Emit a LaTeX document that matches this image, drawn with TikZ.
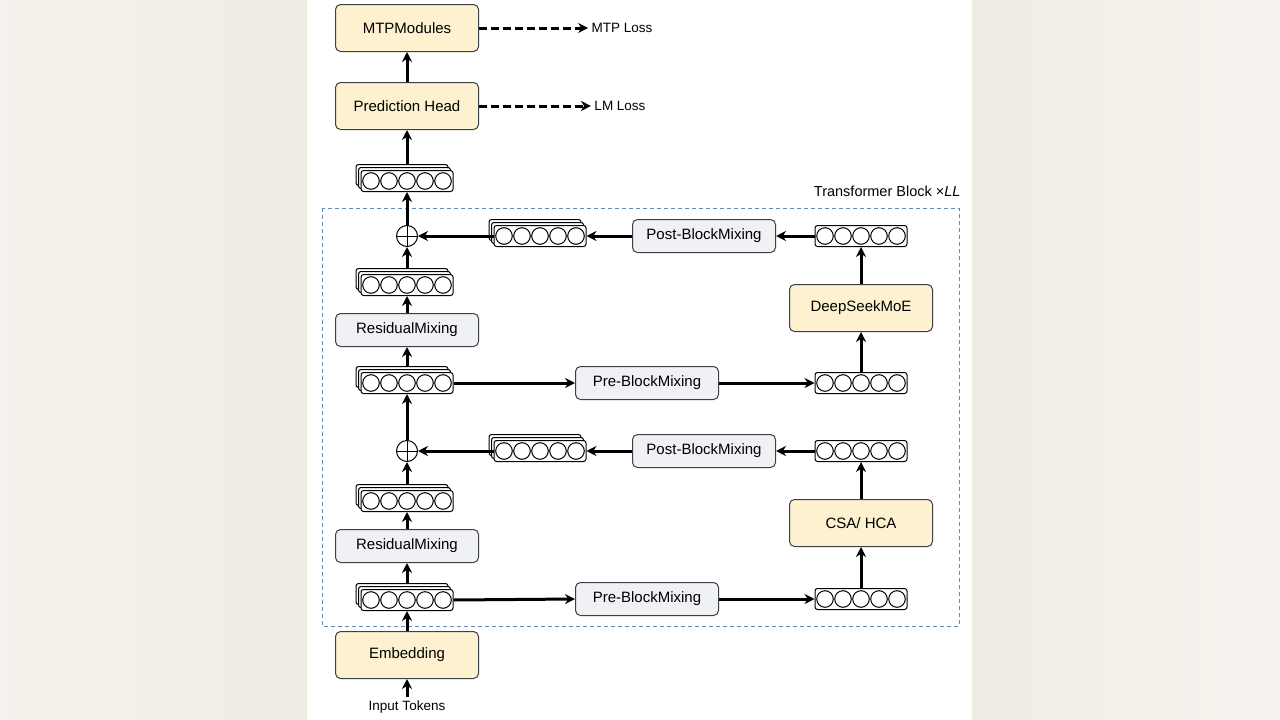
\documentclass[tikz,border=0pt]{standalone}
\usepackage{fontspec}
\setmainfont{Liberation Sans}
\usetikzlibrary{arrows.meta,shapes.geometric}
\definecolor{ylw}{RGB}{253,241,207}
\definecolor{gry}{RGB}{240,241,244}
\definecolor{edge}{RGB}{60,64,70}
\definecolor{dashc}{RGB}{95,140,180}
\definecolor{bgl}{RGB}{240,236,228}
\tikzset{
 box/.style={draw=edge,line width=1pt,rounded corners=5pt,minimum width=143pt,align=center,font=\fontsize{15}{17}\selectfont},
 ybox/.style={box,fill=ylw,minimum height=47pt},
 gbox/.style={box,fill=gry,minimum height=33pt},
 vrect/.style={draw=black,line width=1pt,rounded corners=2.5pt,fill=white,minimum width=92pt,minimum height=21pt,inner sep=0pt},
 arr/.style={line width=3pt,-{Stealth[length=10pt,width=10pt]}},
 darr/.style={line width=3pt,dash pattern=on 8pt off 4pt,-{Stealth[length=10pt,width=10pt]}},
 lbl/.style={font=\fontsize{13.5}{15}\selectfont}
}
\newcommand{\circs}[1]{\foreach \i in {-2,...,2}{\draw[line width=1pt] ([xshift=\i*18pt]#1.center) circle (8.3pt);}}
\newcommand{\vecnode}[3]{\node[vrect] (#1) at (#2,#3) {};\circs{#1}}
\newcommand{\stacknode}[3]{%
 \node[vrect] at ([xshift=-5pt,yshift=6pt]#2pt,-#3pt) {};%
 \node[vrect] at ([xshift=-2.5pt,yshift=3pt]#2pt,-#3pt) {};%
 \node[vrect] (#1) at (#2,#3) {};\circs{#1}}
\begin{document}
\begin{tikzpicture}[x=1pt,y=-1pt]
\useasboundingbox (0,0) rectangle (1280,720);
\fill[left color=bgl!70,right color=bgl] (0,0) rectangle (307,720);
\fill[left color=bgl,right color=bgl!60] (972,0) rectangle (1280,720);
\fill[white] (307,0) rectangle (972,720);
% dashed block
\draw[dashc,line width=1pt,dash pattern=on 4pt off 3pt] (322,208) rectangle (959,626);
\node[anchor=east,font=\fontsize{14.5}{16}\selectfont] (tb) at (964,191) {Transformer Block ×\textit{LL}};
% top
\node[ybox] (mtp) at (407,28) {MTPModules};
\node[ybox] (ph) at (407,106) {Prediction Head};
\node[lbl] (mtpl) at (622,28) {MTP Loss};
\node[lbl] (lml) at (620,106) {LM Loss};
\draw[darr] (mtp.east) -- (mtpl.west);
\draw[darr] (ph.east) -- (lml.west);
\draw[arr] (ph.north) -- (mtp.south);
\stacknode{s0}{407}{181}
\draw[arr] ([yshift=6pt]s0.north) -- (ph.south);
% upper block
\node[draw=black,line width=1pt,circle,minimum size=21pt,inner sep=0pt] (o2) at (407,236) {};
\draw[line width=1pt] (o2.north)--(o2.south) (o2.west)--(o2.east);
\draw[arr] (o2.north) -- (s0.south);
\stacknode{s2b}{540}{236}
\node[gbox] (post2) at (704,236) {Post-BlockMixing};
\vecnode{v2b}{861}{236}
\draw[arr] (v2b.west) -- (post2.east);
\draw[arr] (post2.west) -- (s2b.east);
\draw[arr] (s2b.west) -- (o2.east);
\node[ybox] (moe) at (861,308) {DeepSeekMoE};
\draw[arr] (moe.north) -- (v2b.south);
\stacknode{s2a}{407}{285}
\draw[arr] ([yshift=6pt]s2a.north) -- (o2.south);
\node[gbox] (rm2) at (407,330) {ResidualMixing};
\draw[arr] (rm2.north) -- (s2a.south);
\stacknode{s1}{407}{383}
\draw[arr] ([yshift=6pt]s1.north) -- (rm2.south);
\node[gbox] (pre2) at (647,383) {Pre-BlockMixing};
\vecnode{v2a}{861}{383}
\draw[arr] (s1.east) -- (pre2.west);
\draw[arr] (pre2.east) -- (v2a.west);
\draw[arr] (v2a.north) -- (moe.south);
% lower block
\node[draw=black,line width=1pt,circle,minimum size=21pt,inner sep=0pt] (o1) at (407,451) {};
\draw[line width=1pt] (o1.north)--(o1.south) (o1.west)--(o1.east);
\draw[arr] (o1.north) -- (s1.south);
\stacknode{s1b}{540}{451}
\node[gbox] (post1) at (704,451) {Post-BlockMixing};
\vecnode{v1b}{861}{451}
\draw[arr] (v1b.west) -- (post1.east);
\draw[arr] (post1.west) -- (s1b.east);
\draw[arr] (s1b.west) -- (o1.east);
\node[ybox] (csa) at (861,523) {CSA/ HCA};
\draw[arr] (csa.north) -- (v1b.south);
\stacknode{s1a}{407}{501}
\draw[arr] ([yshift=6pt]s1a.north) -- (o1.south);
\node[gbox] (rm1) at (407,546) {ResidualMixing};
\draw[arr] (rm1.north) -- (s1a.south);
\stacknode{s00}{407}{600}
\draw[arr] ([yshift=6pt]s00.north) -- (rm1.south);
\node[gbox] (pre1) at (647,599) {Pre-BlockMixing};
\vecnode{v1a}{861}{599}
\draw[arr] (s00.east) -- (pre1.west);
\draw[arr] (pre1.east) -- (v1a.west);
\draw[arr] (v1a.north) -- (csa.south);
\node[ybox] (emb) at (407,655) {Embedding};
\draw[arr] (emb.north) -- (s00.south);
\node[lbl] (inp) at (407,707) {Input Tokens};
\draw[arr] (inp.north) -- (emb.south);
\end{tikzpicture}
\end{document}
